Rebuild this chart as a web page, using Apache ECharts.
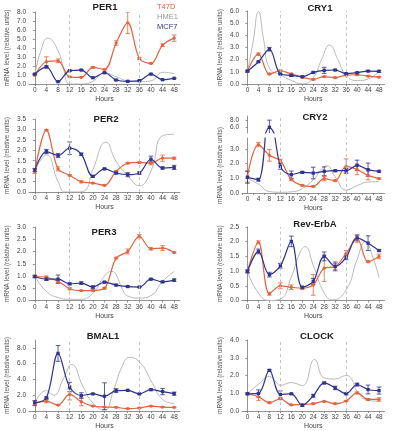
<!DOCTYPE html>
<html><head><meta charset="utf-8">
<script src="https://cdn.jsdelivr.net/npm/echarts@6/dist/echarts.min.js"></script>
<style>html,body{margin:0;padding:0;background:#fff}#c{width:400px;height:431px}</style>
</head><body><div id="c"></div>
<script>
// ---------- data ----------
const hours = [0,4,8,12,16,20,24,28,32,36,40,44,48];
const seriesNames = ['T47D','HME1','MCF7'];
const yAxisTitle = 'mRNA level (relative units)';
const xAxisTitle = 'Hours';

// PER1
const per1T47D    = [1.0,2.47,2.58,0.8,0.74,1.85,1.62,4.55,6.8,2.84,2.29,4.32,5.1];
const per1T47DErr = [0.1,0.55,0.2,0.05,0.05,0.1,0.05,0.25,1.2,0.1,0.05,0.15,0.35];
const per1MCF7    = [1.1,1.9,0.26,1.48,1.55,0.7,1.25,0.44,0.3,0.37,1.1,0.48,0.63];
const per1MCF7Err = [0.05,0.12,0.04,0.05,0.05,0.04,0.05,0.04,0.04,0.04,0.05,0.04,0.04];
const per1HME1Hours = [0,2,4.5,8,10,12,16,20,24,28,32,36,40,44,48];
const per1HME1      = [1.0,3.6,5.1,3.7,1.5,0,0,0.3,1.25,0.8,0.35,0.25,0.35,1.3,1.15];

// CRY1
const cry1T47D    = [1.06,2.45,0.82,1.09,0.82,0.55,0.38,0.6,0.52,0.74,0.76,0.65,0.57];
const cry1T47DErr = [0.05,0.1,0.05,0.05,0.05,0.05,0.05,0.05,0.05,0.05,0.05,0.05,0.05];
const cry1MCF7    = [1.06,1.83,2.86,0.82,0.71,0.6,0.95,1.12,1.15,0.85,0.93,1.06,1.04];
const cry1MCF7Err = [0.08,0.05,0.15,0.05,0.1,0.05,0.05,0.25,0.05,0.05,0.05,0.05,0.08];
const cry1HME1Hours = [0,2,4,6,8,12,16,20,24,27,30,33,36,40,44,48];
const cry1HME1      = [1.0,3.4,5.95,3.5,1.3,0.74,0.3,0.02,0.5,2.0,3.2,2.0,0.7,0.28,0.4,1.04];

// PER2
const per2T47D    = [0.99,2.97,1.11,0.8,0.49,0.43,0.32,0.99,1.38,1.42,1.38,1.62,1.62];
const per2T47DErr = [0.1,0.03,0.1,0.03,0.05,0.03,0.03,0.03,0.03,0.03,0.08,0.15,0.05];
const per2MCF7    = [1.05,1.94,1.75,2.1,1.81,0.75,1.11,0.91,0.83,0.91,1.57,1.15,1.18];
const per2MCF7Err = [0.08,0.1,0.1,0.3,0.05,0.05,0.03,0.05,0.1,0.05,0.15,0.05,0.1];
const per2HME1Hours = [0,4,8,10.5,14,17,20,24.5,28,32,36,40,44,48];
const per2HME1      = [1.0,1.78,0.5,0,0,0.05,1.07,2.39,1.46,0.78,0.3,1.0,2.7,2.77];

// CRY2
const cry2T47D    = [1.14,3.3,2.57,2.2,0.91,0.52,0.45,0.98,0.84,1.82,1.6,1.2,0.98];
const cry2T47DErr = [0.4,0.15,0.4,0.1,0.05,0.05,0.05,0.15,0.05,0.5,0.35,0.3,0.05];
const cry2MCF7    = [1.07,0.91,6.0,1.82,1.25,1.41,1.36,1.48,1.52,1.52,1.89,1.59,1.48];
const cry2MCF7Err = [0.4,0.1,1.9,0.2,0.25,0.05,0.4,0.3,0.05,0.15,0.35,0.45,0.05];
const cry2HME1Hours = [0,4,8,12,16,20,24,29,32,36,40,44,48];
const cry2HME1      = [1.0,0.6,0.1,0.05,0.08,0.3,0.9,1.85,1.1,0.2,0.5,0.75,0.78];

// PER3
const per3T47D    = [0.98,0.95,0.78,0.48,0.4,0.41,0.5,1.73,2.0,2.62,2.11,2.14,1.96];
const per3T47DErr = [0.03,0.05,0.05,0.04,0.02,0.03,0.03,0.03,0.1,0.07,0.05,0.1,0.03];
const per3MCF7    = [0.98,0.87,0.87,0.68,0.71,0.55,0.75,0.63,0.57,0.55,0.87,0.76,0.83];
const per3MCF7Err = [0.05,0.05,0.17,0.04,0.05,0.05,0.03,0.03,0.02,0.02,0.03,0.03,0.05];
const per3HME1Hours = [0,4,8,12,16,20,24,26.5,28,30,32,36,40,44,48];
const per3HME1      = [1.0,0.37,0.12,0.05,0.05,0.3,1.0,1.19,1.05,0.5,0.18,0.1,0.2,0.78,1.19];

// Rev-ErbA
const revT47D    = [0.99,1.98,0.23,0.5,0.45,0.42,0.53,1.1,1.16,1.6,2.1,1.32,1.5];
const revT47DErr = [0.05,0.05,0.05,0.1,0.08,0.05,0.35,0.45,0.1,0.1,0.12,0.03,0.08];
const revMCF7    = [0.99,1.67,0.88,1.18,2.01,0.45,0.65,1.5,1.16,1.47,2.13,1.95,1.7];
const revMCF7Err = [0.05,0.08,0.08,0.08,0.18,0.03,0.1,0.15,0.15,0.08,0.1,0.25,0.03];
const revHME1Hours = [0,4,8,12,16,19,21,24,28,31,36,40,43,46,48];
const revHME1      = [1.0,0.25,0,0.05,0.8,1.6,1.83,1.2,0.25,0.02,0.36,1.39,2.0,1.4,0.77];

// BMAL1
const bmalT47D    = [0.96,1.25,0.75,2.1,1.17,0.62,0.5,0.46,0.3,0.38,0.62,0.5,0.46];
const bmalT47DErr = [0.3,0.2,0.05,0.7,0.5,0.05,0.05,0.05,0.05,0.05,0.05,0.05,0.05];
const bmalMCF7    = [1.04,1.67,7.3,3.04,1.96,2.17,1.87,2.58,2.62,2.17,2.7,2.46,2.2];
const bmalMCF7Err = [0.3,0.1,1.0,0.6,0.35,0.05,1.7,0.25,0.05,0.05,0.1,0.4,0.2];
const bmalHME1Hours = [0,4,6.5,10,12.7,16.6,20,24,27,30,32.6,36.6,40.5,44,48];
const bmalHME1      = [1.0,2.6,2.0,4.2,5.9,3.1,1.0,0.1,2.5,5.6,6.8,6.0,3.5,1.46,0.96];

// CLOCK
const clockT47D    = [0.97,0.8,0.47,0.69,0.35,0.37,0.41,0.54,0.41,0.56,1.02,0.65,0.65];
const clockT47DErr = [0.05,0.2,0.05,0.05,0.03,0.03,0.03,0.03,0.03,0.03,0.05,0.05,0.1];
const clockMCF7    = [0.97,0.99,2.29,0.93,0.97,0.32,0.86,1.58,1.3,0.97,1.49,1.21,1.15];
const clockMCF7Err = [0.05,0.2,0.05,0.2,0.03,0.05,0.08,0.05,0.1,0.05,0.08,0.25,0.2];
const clockHME1Hours = [0,4,8,10,12,16,20,24.5,28,32,36,38,40,44,48];
const clockHME1      = [1.0,1.5,1.95,1.7,1.45,1.6,1.43,2.9,1.86,1.8,2.0,1.8,1.1,0.6,0.55];

// y tick labels per panel
const ticksPER1 = [0,1,2,3,4,5,6,7,8];
const ticksCRY1 = [0,1,2,3,4,5,6];
const ticksPER2 = [0,0.5,1,1.5,2,2.5,3,3.5];
const ticksCRY2 = [0,1,2,3];
const ticksCRY2Upper = [6,8];
const ticksPER3 = [0,0.5,1,1.5,2,2.5,3];
const ticksREV  = [0,0.5,1,1.5,2,2.5];
const ticksBMAL = [0,2,4,6,8];
const ticksCLOCK = [0,1,2,3,4];

// ---------- styling / layout ----------
const C_T = '#e4643f', C_H = '#b9b9b9', C_M = '#2f3490';
const FONT = '"Liberation Sans", Arial, sans-serif';
const L = {left:29, width:151}, R = {left:242, width:142.5};

const panels = [
  {title:'PER1', tx:105, ty:2, col:L, top:12, h:72, max:8, ticks:ticksPER1,
   t:per1T47D, te:per1T47DErr, m:per1MCF7, me:per1MCF7Err, hh:per1HME1Hours, hv:per1HME1},
  {title:'CRY1', tx:320, ty:3, col:R, top:11, h:73, max:6, ticks:ticksCRY1,
   t:cry1T47D, te:cry1T47DErr, m:cry1MCF7, me:cry1MCF7Err, hh:cry1HME1Hours, hv:cry1HME1},
  {title:'PER2', tx:106, ty:114, col:L, top:119, h:73, max:3.5, ticks:ticksPER2,
   t:per2T47D, te:per2T47DErr, m:per2MCF7, me:per2MCF7Err, hh:per2HME1Hours, hv:per2HME1},
  {title:'CRY2', tx:315, ty:112, col:R, top:138, h:55, max:3.75, ticks:ticksCRY2, minorX:true,
   t:cry2T47D, te:cry2T47DErr, m:cry2MCF7, me:cry2MCF7Err, hh:cry2HME1Hours, hv:cry2HME1},
  {title:'PER3', tx:104, ty:227, col:L, top:227, h:73.5, max:3, ticks:ticksPER3,
   t:per3T47D, te:per3T47DErr, m:per3MCF7, me:per3MCF7Err, hh:per3HME1Hours, hv:per3HME1},
  {title:'Rev-ErbA', tx:315, ty:219, col:R, top:227, h:73.5, max:2.5, ticks:ticksREV,
   t:revT47D, te:revT47DErr, m:revMCF7, me:revMCF7Err, hh:revHME1Hours, hv:revHME1},
  {title:'BMAL1', tx:103, ty:331, col:L, top:340, h:71.7, max:9, ticks:ticksBMAL,
   t:bmalT47D, te:bmalT47DErr, m:bmalMCF7, me:bmalMCF7Err, hh:bmalHME1Hours, hv:bmalHME1},
  {title:'CLOCK', tx:317, ty:331, col:R, top:340, h:71.7, max:4, ticks:ticksCLOCK,
   t:clockT47D, te:clockT47DErr, m:clockMCF7, me:clockMCF7Err, hh:clockHME1Hours, hv:clockHME1}
];

const grids = [], xAxes = [], yAxes = [], series = [], titles = [];
const dashMark = {
  silent:true, symbol:['none','none'], label:{show:false},
  lineStyle:{color:'#bdbdbd', type:[3,3], width:0.9},
  emphasis:{disabled:true},
  data:[{xAxis:12},{xAxis:36}]
};

function errSeries(idx, vals, errs, color) {
  return {
    type:'custom', xAxisIndex:idx, yAxisIndex:idx, clip:true, silent:true, z:3,
    data: hours.map((h,i)=>[h, vals[i]-errs[i], vals[i]+errs[i]]),
    encode:{x:0, y:[1,2]},
    renderItem(params, api) {
      const x = api.value(0);
      const lo = api.coord([x, api.value(1)]);
      const hi = api.coord([x, api.value(2)]);
      const w = 2.3;
      const st = {stroke:color, lineWidth:0.8};
      return {type:'group', children:[
        {type:'line', shape:{x1:lo[0],y1:lo[1],x2:hi[0],y2:hi[1]}, style:st},
        {type:'line', shape:{x1:lo[0]-w,y1:lo[1],x2:lo[0]+w,y2:lo[1]}, style:st},
        {type:'line', shape:{x1:hi[0]-w,y1:hi[1],x2:hi[0]+w,y2:hi[1]}, style:st}
      ]};
    }
  };
}
function lineSeries(idx, name, vals, color, symbol) {
  return {
    type:'line', name, xAxisIndex:idx, yAxisIndex:idx, clip:true, z:4,
    data: hours.map((h,i)=>[h, vals[i]]), smooth:0.35,
    symbol, symbolSize:3.3, showSymbol:true,
    lineStyle:{color, width:1.2}, itemStyle:{color},
    emphasis:{disabled:true}
  };
}
function xAxisDef(idx, minorX, show) {
  const tickVals = minorX ? [-2,2,6,10,14,18,22,26,30,34,38,42,46] : hours;
  return {
    type:'value', gridIndex:idx, min:-2, max:50, show,
    splitLine:{show:false},
    axisLine:{show:true, lineStyle:{color:'#777', width:0.8}},
    axisTick:{show:true, customValues:tickVals, length:2, lineStyle:{color:'#777', width:0.8}},
    axisLabel:{customValues:hours, fontSize:6.5, color:'#444', margin:3, fontFamily:FONT},
    name:xAxisTitle, nameLocation:'middle', nameGap:12,
    nameTextStyle:{fontSize:7, color:'#444', fontFamily:FONT}
  };
}
function yAxisDef(idx, min, max, ticks, withName) {
  return {
    type:'value', gridIndex:idx, min, max,
    splitLine:{show:false},
    axisLine:{show:true, lineStyle:{color:'#777', width:0.8}},
    axisTick:{show:true, customValues:ticks, length:2, lineStyle:{color:'#777', width:0.8}},
    axisLabel:{customValues:ticks, fontSize:6.5, color:'#444', margin:3, fontFamily:FONT,
               formatter:v=>v.toFixed(1)},
    name: withName ? yAxisTitle : '', nameLocation:'middle', nameGap:18,
    nameTextStyle:{fontSize:6.5, color:'#555', fontFamily:FONT}
  };
}

panels.forEach((p, i) => {
  grids.push({left:p.col.left, width:p.col.width, top:p.top, height:p.h});
  xAxes.push(xAxisDef(i, !!p.minorX, true));
  yAxes.push(yAxisDef(i, 0, p.max, p.ticks, true));
  series.push({
    type:'line', name:'HME1', xAxisIndex:i, yAxisIndex:i, clip:true, z:2,
    data: p.hh.map((h,k)=>[h, p.hv[k]]), smooth:0.5, symbol:'none',
    lineStyle:{color:C_H, width:1}, itemStyle:{color:C_H},
    emphasis:{disabled:true}, markLine:dashMark
  });
  series.push(lineSeries(i, 'T47D', p.t, C_T, 'circle'));
  series.push(lineSeries(i, 'MCF7', p.m, C_M, 'rect'));
  series.push(errSeries(i, p.t, p.te, C_T));
  series.push(errSeries(i, p.m, p.me, C_M));
  titles.push({text:p.title, left:p.tx, top:p.ty, textAlign:'center', padding:0,
    textStyle:{fontSize:9.5, fontWeight:'bold', color:'#222', fontFamily:FONT}});
});

// CRY2 upper (broken axis) segment
const up = panels.length;
grids.push({left:R.left, width:R.width, top:116, height:17});
xAxes.push(xAxisDef(up, false, false));
yAxes.push(yAxisDef(up, 4.5, 9, ticksCRY2Upper, false));
series.push(Object.assign(lineSeries(up, 'MCF7', cry2MCF7, C_M, 'rect'), {markLine:dashMark}));
series.push(errSeries(up, cry2MCF7, cry2MCF7Err, C_M));

const chart = echarts.init(document.getElementById('c'), null, {renderer:'canvas'});
chart.setOption({
  animation:false,
  backgroundColor:'#fff',
  textStyle:{fontFamily:FONT},
  title:titles,
  legend:{
    orient:'vertical', left:152, top:3, itemGap:2, itemWidth:0, itemHeight:0, padding:0,
    icon:'rect', selectedMode:false,
    textStyle:{fontSize:7.5, fontFamily:FONT, padding:0},
    data:[
      {name:seriesNames[0], textStyle:{color:C_T}},
      {name:seriesNames[1], textStyle:{color:'#9a9a9a'}},
      {name:seriesNames[2], textStyle:{color:C_M}}
    ]
  },
  grid:grids, xAxis:xAxes, yAxis:yAxes, series
});
</script></body></html>
